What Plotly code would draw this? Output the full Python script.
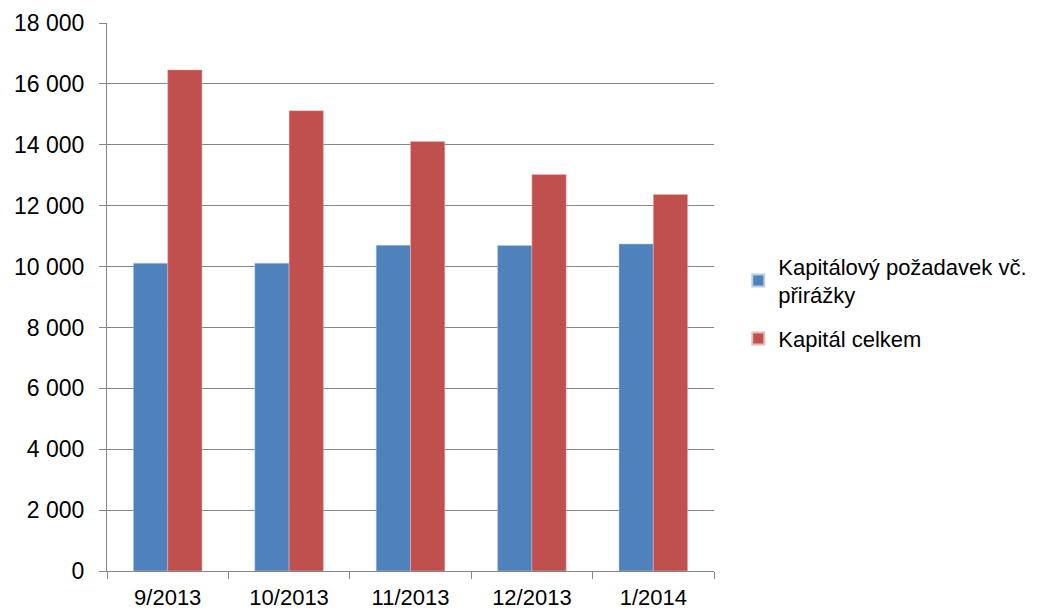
import plotly.graph_objects as go

categories = ["9/2013", "10/2013", "11/2013", "12/2013", "1/2014"]
pozadavek = [10110, 10110, 10700, 10690, 10740]
kapital = [16460, 15120, 14110, 13020, 12370]
series_names = ["Kapitálový požadavek vč.<br>přirážky", "Kapitál celkem"]
y_ticks = [0, 2000, 4000, 6000, 8000, 10000, 12000, 14000, 16000, 18000]

font_family = "Liberation Sans, Arial, sans-serif"

fig = go.Figure()
fig.add_trace(go.Bar(x=categories, y=pozadavek, name=series_names[0], legendgroup="a",
                     marker=dict(color="#4F81BD", line=dict(color="#B9CDE5", width=0.5))))
fig.add_trace(go.Bar(x=categories, y=kapital, name=series_names[1], legendgroup="b",
                     marker=dict(color="#C0504D", line=dict(color="#E6B9B8", width=0.5))))

fig.update_layout(
    width=1049, height=615,
    margin=dict(l=107, r=335, t=23, b=44, autoexpand=False),
    paper_bgcolor="white", plot_bgcolor="white",
    barmode="group", bargap=0.435, bargroupgap=0,
    separators=", ",
    font=dict(family=font_family, size=22, color="#000000"),
    showlegend=True,
    legend=dict(x=1.04, y=0.49, xanchor="left", yanchor="middle",
                font=dict(size=22, family=font_family),
                itemsizing="constant", tracegroupgap=12,
                bgcolor="rgba(0,0,0,0)"),
    xaxis=dict(showgrid=False, showline=True, linecolor="#868686", linewidth=1,
               automargin=False,
               ticks="outside", tickson="boundaries", ticklen=7, tickcolor="#868686",
               tickfont=dict(size=22), ticklabelstandoff=7),
    yaxis=dict(range=[0, 18000], tickvals=y_ticks, tickformat=",d", automargin=False,
               showgrid=True, gridcolor="#868686", gridwidth=1,
               showline=True, linecolor="#868686", linewidth=1,
               ticks="outside", ticklen=7, tickcolor="#868686",
               tickfont=dict(size=23), ticklabelstandoff=10, zeroline=False),
)

fig.write_html("out.html")
